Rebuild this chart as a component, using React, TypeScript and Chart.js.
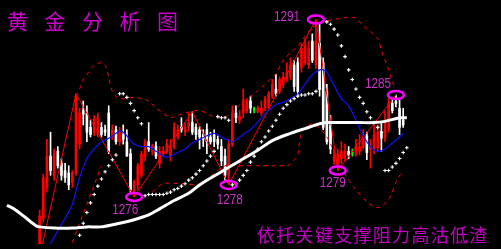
import { useEffect, useRef } from 'react';
import { Chart, registerables } from 'chart.js';
Chart.register(...registerables);

const SLOTS = 135;
const FIRST = 9;
const Y_MIN = 1272.08;
const Y_MAX = 1292;

const opens = [
  1271.4, 1274.2, 1276.8, 1279.4, 1277.8, 1279.8, 1278.8, 1278.2, 1278.0, 1277.2,
  1278.0, 1280.4, 1283.2, 1283.0, 1281.8, 1281.4, 1281.2, 1281.8, 1281.6, 1283.0,
  1281.0, 1281.6, 1280.6, 1281.2, 1280.6, 1279.6, 1276.4, 1277.0, 1277.8, 1279.4,
  1280.6, 1279.8, 1280.2, 1278.8, 1279.6, 1279.8, 1279.4, 1280.2, 1281.0, 1281.8,
  1281.4, 1281.8, 1282.2, 1281.8, 1281.6, 1281.2, 1281.6, 1281.0, 1281.2, 1280.8,
  1280.2, 1279.4, 1277.8, 1280.4, 1283.0, 1282.4, 1283.0, 1283.2, 1284.0, 1283.3,
  1283.1, 1283.0, 1283.4, 1283.6, 1284.4, 1285.0, 1284.8, 1285.4, 1285.8, 1286.0,
  1287.0, 1287.2, 1286.8, 1287.2, 1287.0, 1289.0, 1287.0, 1288.8, 1287.2, 1284.8,
  1282.0, 1279.0, 1278.8, 1279.2, 1279.4, 1279.8, 1279.7, 1279.6, 1279.8, 1280.2,
  1281.1, 1280.0, 1280.0, 1280.1, 1281.4, 1280.9, 1281.6, 1283.8, 1284.0, 1283.4,
  1282.4,
];
const highs = [
  1274.9, 1277.9, 1280.8, 1281.4, 1280.0, 1280.2, 1279.2, 1278.8, 1278.6, 1278.2,
  1284.6, 1283.4, 1284.0, 1283.6, 1282.4, 1282.8, 1283.0, 1282.2, 1282.0, 1283.6,
  1282.0, 1281.9, 1281.8, 1282.0, 1281.6, 1280.0, 1277.4, 1278.8, 1279.8, 1280.8,
  1282.2, 1280.4, 1280.6, 1280.2, 1280.2, 1280.8, 1280.8, 1282.2, 1282.0, 1282.6,
  1282.2, 1283.0, 1283.1, 1282.1, 1281.9, 1281.6, 1282.1, 1281.4, 1281.6, 1281.1,
  1280.8, 1280.0, 1280.8, 1283.6, 1283.6, 1283.2, 1285.0, 1284.2, 1284.4, 1283.5,
  1283.6, 1284.0, 1284.4, 1284.8, 1285.8, 1286.2, 1286.0, 1286.4, 1287.2, 1287.6,
  1287.4, 1287.6, 1288.8, 1289.2, 1289.0, 1289.6, 1290.8, 1290.4, 1287.6, 1285.4,
  1282.8, 1280.0, 1280.0, 1280.6, 1280.4, 1280.2, 1280.0, 1280.8, 1281.2, 1281.6,
  1281.4, 1280.8, 1282.0, 1282.0, 1282.2, 1283.2, 1284.2, 1284.2, 1284.5, 1284.2,
  1283.4,
];
const lows = [
  1271.0, 1273.9, 1276.4, 1277.8, 1277.4, 1278.4, 1277.4, 1277.2, 1276.6, 1276.8,
  1277.8, 1280.0, 1282.0, 1280.6, 1281.0, 1281.1, 1281.0, 1281.0, 1281.1, 1279.6,
  1280.8, 1280.4, 1280.3, 1280.4, 1279.4, 1276.4, 1276.0, 1276.6, 1277.6, 1279.0,
  1279.8, 1279.5, 1279.2, 1278.4, 1279.4, 1279.6, 1279.0, 1280.0, 1280.8, 1281.4,
  1281.1, 1281.5, 1281.2, 1280.8, 1280.0, 1280.2, 1279.6, 1280.4, 1280.2, 1280.0,
  1278.6, 1277.4, 1277.0, 1280.2, 1282.2, 1282.1, 1282.6, 1283.0, 1283.0, 1283.0,
  1283.0, 1282.8, 1283.2, 1283.4, 1284.2, 1284.4, 1284.6, 1285.1, 1285.6, 1285.8,
  1284.8, 1284.4, 1286.4, 1287.0, 1286.7, 1287.2, 1286.7, 1284.4, 1281.6, 1280.4,
  1279.6, 1278.7, 1278.2, 1278.8, 1279.0, 1279.2, 1279.4, 1279.4, 1279.5, 1280.0,
  1279.1, 1278.4, 1279.6, 1279.8, 1279.8, 1280.6, 1281.4, 1283.0, 1283.5, 1281.2,
  1281.8,
];
const closes = [
  1274.4, 1277.6, 1279.4, 1278.2, 1279.6, 1278.6, 1277.8, 1277.6, 1277.0, 1278.0,
  1284.4, 1283.0, 1282.9, 1281.4, 1281.2, 1282.5, 1282.6, 1281.2, 1281.4, 1279.8,
  1281.6, 1280.6, 1281.4, 1280.8, 1279.4, 1276.6, 1277.2, 1278.6, 1279.6, 1280.6,
  1280.0, 1280.2, 1279.4, 1279.8, 1279.8, 1280.4, 1280.2, 1281.8, 1281.6, 1281.6,
  1281.8, 1282.2, 1281.4, 1281.2, 1281.0, 1280.8, 1280.6, 1280.6, 1280.6, 1280.4,
  1279.0, 1277.8, 1280.4, 1283.0, 1282.6, 1282.7, 1284.0, 1284.0, 1283.4, 1283.3,
  1283.4, 1283.4, 1284.2, 1284.6, 1285.4, 1284.6, 1285.8, 1286.0, 1286.4, 1287.0,
  1285.2, 1284.8, 1288.4, 1288.6, 1288.4, 1287.4, 1289.0, 1285.0, 1281.8, 1280.6,
  1280.0, 1279.4, 1279.6, 1279.8, 1279.8, 1279.5, 1279.7, 1280.2, 1280.2, 1281.0,
  1279.7, 1280.2, 1281.2, 1281.4, 1280.9, 1282.4, 1283.8, 1283.2, 1283.8, 1281.8,
  1282.0,
];

// [slot index, value]
const blueMA: [number, number][] = [
  [11, 1271.6], [12, 1272.1], [14, 1273.2], [16, 1274.2], [18, 1275.4], [20, 1277.6], [22, 1279.2],
  [24, 1280.0], [26, 1280.6], [28, 1280.9], [30, 1281.3], [31, 1281.5], [32, 1281.4], [33, 1281.1],
  [34, 1280.7], [35, 1280.4], [37, 1280.2], [39, 1280.2], [41, 1279.8], [43, 1279.4], [44, 1279.3],
  [45, 1279.4], [47, 1279.7], [49, 1280.0], [51, 1280.5], [53, 1280.8], [55, 1281.1], [57, 1281.3],
  [59, 1281.0], [61, 1280.7], [62, 1280.6], [64, 1281.0], [66, 1281.4], [68, 1281.9], [70, 1282.6],
  [72, 1283.2], [74, 1283.7], [76, 1283.9], [78, 1284.2], [80, 1284.6], [82, 1285.4], [84, 1286.2],
  [86, 1286.6], [87, 1286.6], [88, 1286.4], [90, 1285.3], [92, 1284.2], [94, 1283.6], [96, 1282.4],
  [98, 1281.1], [100, 1280.2], [102, 1279.8], [104, 1280.0], [106, 1280.5], [108, 1281.0], [109, 1281.3],
];
const whiteMA: [number, number][] = [
  [0, 1275.3], [2, 1275.0], [5, 1274.3], [8, 1273.6], [9, 1273.5], [13, 1273.4], [18, 1273.4],
  [22, 1273.5], [26, 1273.5], [31, 1273.8], [35, 1274.1], [39, 1274.5], [42, 1275.0], [46, 1275.7],
  [50, 1276.3], [53, 1277.0], [59, 1278.1], [64, 1279.0], [69, 1279.9], [73, 1280.7], [78, 1281.3],
  [82, 1281.7], [86, 1282.1], [88, 1282.2], [92, 1282.2], [97, 1282.2], [101, 1282.2], [104, 1282.3],
  [108, 1282.6], [110, 1282.6],
];
const sar: [number, number][] = [
  [20, 1272.8], [21, 1273.8], [22, 1274.7], [23, 1275.5], [24, 1276.2], [25, 1276.9], [26, 1277.5],
  [27, 1278.1], [28, 1278.6], [29, 1279.1], [30, 1279.5], [31, 1284.6], [32, 1284.6], [33, 1284.3],
  [34, 1283.8], [35, 1283.2], [36, 1282.6], [37, 1282.1], [38, 1276.1], [39, 1276.2], [40, 1276.2],
  [41, 1276.2], [42, 1276.2], [43, 1276.2], [44, 1276.3], [45, 1276.4], [46, 1276.6], [47, 1276.7],
  [48, 1276.9], [49, 1277.1], [50, 1277.4], [51, 1277.6], [52, 1277.9], [53, 1278.2], [54, 1278.6],
  [55, 1279.0], [56, 1279.4], [57, 1279.8], [58, 1282.7], [59, 1282.6], [60, 1282.6], [61, 1282.4],
  [62, 1277.0], [63, 1277.1], [64, 1277.4], [65, 1277.8], [66, 1278.2], [67, 1278.9], [68, 1279.4],
  [69, 1280.0], [70, 1280.6], [71, 1281.0], [72, 1281.5], [73, 1281.9], [74, 1282.4], [75, 1282.9],
  [76, 1283.4], [77, 1283.7], [78, 1284.0], [79, 1284.2], [80, 1284.4], [81, 1284.5], [82, 1284.5],
  [83, 1284.6], [84, 1284.6], [85, 1284.8], [86, 1285.0], [88, 1290.6], [89, 1290.4], [90, 1290.0],
  [91, 1289.5], [92, 1288.6], [93, 1287.7], [94, 1286.6], [95, 1285.8], [96, 1285.0], [97, 1284.3],
  [98, 1283.8], [99, 1283.1], [100, 1282.6], [101, 1282.2], [102, 1281.8], [103, 1281.4], [104, 1278.2],
  [105, 1278.2], [106, 1278.5], [107, 1278.8], [108, 1279.2], [109, 1279.7], [110, 1280.1],
];
const upperBand: [number, number][] = [
  [19, 1284.4], [20, 1285.0], [21, 1285.8], [22, 1286.2], [24, 1287.0], [26, 1287.2], [27, 1287.0],
  [28, 1286.0], [29, 1284.8], [31, 1284.2], [35, 1284.3], [37, 1284.2], [39, 1284.0], [41, 1283.4],
  [43, 1283.0], [45, 1282.6], [47, 1282.8], [49, 1283.0], [53, 1283.2], [57, 1282.7], [61, 1282.8],
  [65, 1284.0], [68, 1284.6], [71, 1285.4], [74, 1286.3], [76, 1287.4], [80, 1288.6], [82, 1289.4],
  [84, 1290.1], [87, 1290.6], [90, 1290.8], [92, 1290.9], [94, 1291.0], [96, 1290.9], [98, 1290.3],
  [100, 1289.8], [102, 1289.2], [103, 1288.2], [104, 1287.4], [105, 1286.6], [106, 1285.6], [107, 1285.0],
];
const lowerBand: [number, number][] = [
  [40, 1276.4], [43, 1277.1], [48, 1277.1], [53, 1277.1], [60, 1278.6], [64, 1278.6], [69, 1278.6],
  [76, 1278.6], [78, 1278.7], [79, 1279.1], [80, 1279.5], [81, 1281.3], [84, 1282.1], [88, 1281.0],
  [91, 1279.0], [94, 1277.4], [96, 1276.6], [99, 1275.6], [102, 1275.1], [105, 1275.8], [107, 1277.2],
  [108, 1277.8], [109, 1277.9],
];
const channelLine: [number, number][] = [[18, 1272.2], [26, 1278.6]];
const zigzag: [number, number][] = [
  [9, 1271.0], [19, 1284.6], [35, 1276.0], [51, 1283.1], [61, 1277.0], [85, 1290.8], [91, 1278.2], [107, 1284.5],
];
const markerSlots = [35, 61, 85, 91, 107];
const markerValues = [1276.0, 1277.0, 1290.8, 1278.2, 1284.5];
const markerLabels = ['1276', '1278', '1291', '1279', '1285'];
const markerDx = [-9, 1, -29, -5, -18];
const markerDy = [13, 15, -2, 13, -11];

const TITLE = '黄金分析图';
const FOOTER = '依托关键支撑阻力高沽低渣';

function sparse(pts: [number, number][]) {
  const a: (number | null)[] = new Array(SLOTS).fill(null);
  pts.forEach(([i, v]) => (a[i] = v));
  return a;
}

export default function App() {
  const ref = useRef<HTMLCanvasElement>(null);
  useEffect(() => {
    document.body.style.margin = '0';
    document.body.style.background = '#000';
    document.documentElement.style.background = '#000';
    const labels = Array.from({ length: SLOTS }, (_, i) => String(i));
    const wick: any[] = new Array(SLOTS).fill(null);
    const body: any[] = new Array(SLOTS).fill(null);
    const col: string[] = new Array(SLOTS).fill('#ff0000');
    opens.forEach((o, k) => {
      const c = closes[k];
      const i = FIRST + k;
      wick[i] = [lows[k], highs[k]];
      if (Math.abs(c - o) < 0.05) {
        body[i] = [o - 0.045, o + 0.045];
        col[i] = '#00ff00';
      } else {
        body[i] = [o, c];
        col[i] = c > o ? '#ff0000' : '#ffffff';
      }
    });

    const markerPlugin = {
      id: 'markers',
      afterDatasetsDraw(chart: any) {
        const { ctx, scales } = chart;
        ctx.save();
        markerSlots.forEach((s, k) => {
          const px = scales.x.getPixelForValue(s);
          const py = scales.y.getPixelForValue(markerValues[k]);
          ctx.beginPath();
          ctx.ellipse(px, py, 8, 4, 0, 0, Math.PI * 2);
          ctx.strokeStyle = '#ff00ff';
          ctx.lineWidth = 2.5;
          ctx.stroke();
          ctx.fillStyle = '#cc33cc';
          ctx.font = '14px "Liberation Sans", "DejaVu Sans", sans-serif';
          ctx.textAlign = 'center';
          ctx.textBaseline = 'middle';
          ctx.fillText(markerLabels[k], px + markerDx[k], py + markerDy[k], 26);
        });
        ctx.restore();
      },
    };

    const lineBase = { type: 'line', pointRadius: 0, spanGaps: true, fill: false };
    const chart = new Chart(ref.current as HTMLCanvasElement, {
      type: 'bar',
      data: {
        labels,
        datasets: [
          { ...lineBase, data: sparse(sar), showLine: false, pointStyle: 'cross', pointRadius: 1.8, pointBorderColor: '#ffffff', pointBorderWidth: 1.1, borderColor: '#ffffff', order: 0 } as any,
          { ...lineBase, data: sparse(whiteMA), borderColor: '#ffffff', borderWidth: 3, tension: 0.3, order: 1 } as any,
          { ...lineBase, data: sparse(blueMA), borderColor: '#1010ff', borderWidth: 1.2, tension: 0.3, order: 2 } as any,
          { ...lineBase, data: sparse(zigzag), borderColor: '#ff0000', borderWidth: 1, order: 3 } as any,
          { ...lineBase, data: sparse(upperBand), borderColor: '#ff0000', borderWidth: 1, borderDash: [4, 4], tension: 0.3, order: 4 } as any,
          { ...lineBase, data: sparse(lowerBand), borderColor: '#ff0000', borderWidth: 1, borderDash: [4, 4], tension: 0.3, order: 4 } as any,
          { ...lineBase, data: sparse(channelLine), borderColor: '#ff0000', borderWidth: 1, borderDash: [4, 4], order: 4 } as any,
          { data: body, backgroundColor: col, borderWidth: 0, barThickness: 2, grouped: false, order: 5 } as any,
          { data: wick, backgroundColor: col, borderWidth: 0, barThickness: 1, grouped: false, order: 6 } as any,
        ],
      },
      options: {
        responsive: false,
        animation: false,
        devicePixelRatio: 1,
        events: [],
        layout: { padding: 0 },
        plugins: { legend: { display: false }, tooltip: { enabled: false }, title: { display: false } },
        scales: {
          x: { display: false, offset: true },
          y: { display: false, min: Y_MIN, max: Y_MAX },
        },
      },
      plugins: [markerPlugin],
    });
    return () => chart.destroy();
  }, []);

  return (
    <div style={{ position: 'relative', width: 501, height: 249, background: '#000', overflow: 'hidden' }}>
      <canvas ref={ref} width={501} height={249} style={{ display: 'block' }} />
      <div style={{ position: 'absolute', left: 7, top: 8, fontFamily: '"Noto Sans CJK SC", sans-serif', fontSize: 21, lineHeight: '24px', letterSpacing: '16.5px', color: '#cc00cc', whiteSpace: 'nowrap' }}>{TITLE}</div>
      <div style={{ position: 'absolute', left: 257, top: 223, fontFamily: '"Noto Sans CJK SC", sans-serif', fontSize: 18, lineHeight: '22px', letterSpacing: '1.3px', color: '#c000c0', whiteSpace: 'nowrap' }}>{FOOTER}</div>
    </div>
  );
}
